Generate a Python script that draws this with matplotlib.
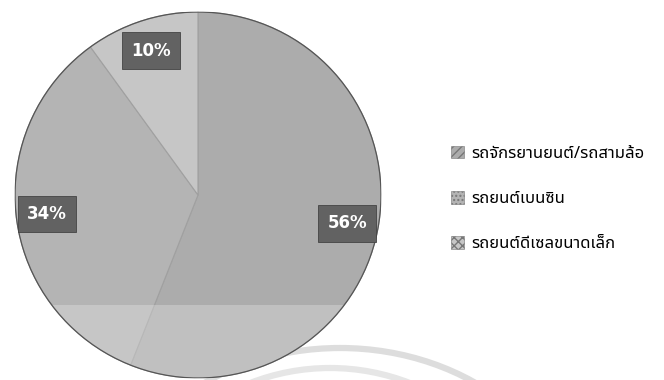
import matplotlib
matplotlib.use('Agg')
import matplotlib.pyplot as plt
from matplotlib.patches import Circle, Rectangle, Arc

plt.rcParams['font.family'] = ['Noto Sans Thai', 'Noto Serif Thai', 'Loma', 'Garuda',
                               'Tlwg Typo', 'Norasi', 'DejaVu Sans']

# ส่วนแบ่งตามประเภทยานพาหนะ
labels = ['รถจักรยานยนต์/รถสามล้อ', 'รถยนต์เบนซิน', 'รถยนต์ดีเซลขนาดเล็ก']
shares = [56, 34, 10]
colors = ['#acacac', '#b4b4b4', '#c6c6c6']
hatches = ['////', '....', 'xxxx']

fig = plt.figure(figsize=(6.64, 3.80), dpi=100)

# เส้นโค้งตกแต่งด้านหลังวงกลม (แกน y กลับด้าน จึงใช้มุม 180-360)
deco = fig.add_axes([0, 0, 1, 1], facecolor='none')
deco.set_xlim(0, 664)
deco.set_ylim(380, 0)
deco.axis('off')
deco.add_patch(Arc((340, 548), 480, 400, theta1=180, theta2=360,
                   edgecolor='#dddddd', linewidth=4.5))
deco.add_patch(Arc((330, 568), 420, 400, theta1=180, theta2=360,
                   edgecolor='#e6e6e6', linewidth=4.5))

ax = fig.add_axes([15 / 664, 2 / 380, 366 / 664, 366 / 380])

wedges, texts, autotexts = ax.pie(
    shares, colors=colors, startangle=90, counterclock=False,
    autopct='%d%%', pctdistance=0.83,
    wedgeprops=dict(edgecolor='#a0a0a0', linewidth=0.8),
    textprops=dict(color='white', fontsize=12, fontweight='bold',
                   family='DejaVu Sans'))
for t in autotexts:
    t.set_bbox(dict(boxstyle='square,pad=0.55', facecolor='#626262',
                    edgecolor='#444444', linewidth=0.6))

# แถบสว่างด้านล่างของวงกลม
rim = Circle((0, 0), 1, transform=ax.transData)
shade = Rectangle((-1.1, -1.1), 2.2, 0.5, facecolor='white', alpha=0.25,
                  edgecolor='none')
ax.add_patch(shade)
shade.set_clip_path(rim)
ax.add_patch(Circle((0, 0), 1, fill=False, edgecolor='#555555', linewidth=0.9))

ax.set_xlim(-1, 1)
ax.set_ylim(-1, 1)
ax.set_aspect('equal')
ax.axis('off')

# คำอธิบายสัญลักษณ์
handles = [Rectangle((0, 0), 1, 1, facecolor=c, hatch=h, edgecolor='#777777',
                     linewidth=0.4) for c, h in zip(colors, hatches)]
fig.legend(handles, labels, loc='center left', bbox_to_anchor=(436 / 664, 1 - 199 / 380),
           frameon=False, fontsize=12, handlelength=0.8, handleheight=0.8,
           handletextpad=0.45, labelspacing=1.75)

fig.savefig('out.png', dpi=100)
